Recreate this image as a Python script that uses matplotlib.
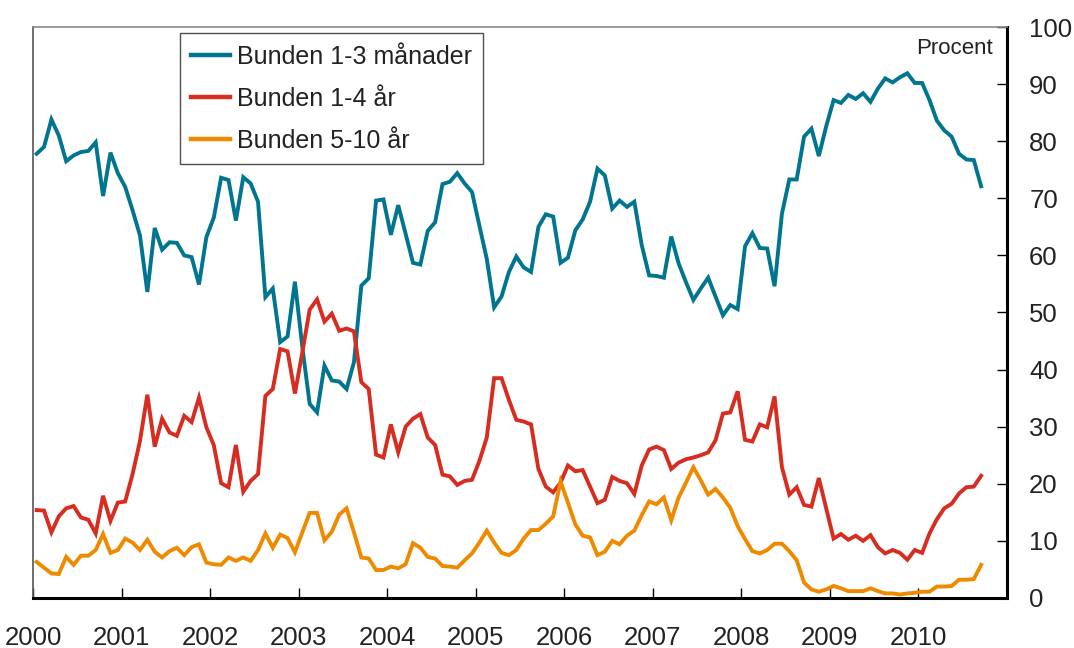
import matplotlib
matplotlib.use("Agg")
import matplotlib.pyplot as plt
import numpy as np

plt.rcParams['font.family'] = ['Liberation Sans', 'DejaVu Sans']

# monthly data, Jan 2000 - Sep 2010
bunden_1_3_man = [77.8, 79.0, 83.8, 81.0, 76.5, 77.5, 78.1, 78.3, 79.8, 70.4, 78.0, 74.4,
                  72.0, 67.9, 63.5, 53.6, 64.8, 61.0, 62.3, 62.2, 60.0, 59.7, 54.9, 63.2,
                  66.6, 73.6, 73.2, 66.1, 73.7, 72.6, 69.4, 52.7, 54.2, 44.8, 45.8, 55.4,
                  44.0, 34.0, 32.5, 40.7, 38.1, 37.9, 36.6, 41.3, 54.7, 56.0, 69.6, 69.8,
                  63.6, 68.8, 63.8, 58.7, 58.4, 64.3, 65.8, 72.5, 72.9, 74.4, 72.6, 71.1,
                  65.2, 59.4, 50.9, 52.8, 57.1, 59.8, 57.9, 57.1, 65.0, 67.2, 66.8, 58.7,
                  59.6, 64.4, 66.3, 69.4, 75.2, 74.0, 68.2, 69.6, 68.5, 69.4, 61.8, 56.5,
                  56.4, 56.1, 63.3, 58.6, 55.3, 52.2, 54.2, 56.1, 52.8, 49.5, 51.3, 50.6,
                  61.6, 63.9, 61.3, 61.2, 54.6, 67.3, 73.3, 73.3, 80.8, 82.2, 77.4, 82.6,
                  87.2, 86.7, 88.1, 87.4, 88.4, 86.9, 89.2, 91.0, 90.3, 91.2, 91.9, 90.2,
                  90.2, 87.2, 83.6, 81.9, 80.8, 77.8, 76.8, 76.7, 72.1]

bunden_1_4_ar = [15.4, 15.3, 11.5, 14.3, 15.7, 16.1, 14.1, 13.7, 11.3, 17.9, 13.5, 16.7,
                 16.9, 21.7, 27.5, 35.6, 26.5, 31.4, 29.0, 28.4, 31.9, 30.8, 35.1, 29.9,
                 26.8, 20.1, 19.4, 26.8, 18.6, 20.5, 21.7, 35.4, 36.6, 43.6, 43.2, 35.8,
                 43.0, 50.5, 52.3, 48.4, 49.8, 46.8, 47.2, 46.7, 37.8, 36.6, 25.1, 24.6,
                 30.4, 25.5, 30.0, 31.4, 32.2, 28.1, 26.8, 21.6, 21.3, 19.8, 20.5, 20.7,
                 24.0, 28.1, 38.5, 38.5, 34.7, 31.2, 30.9, 30.4, 22.6, 19.5, 18.5, 20.2,
                 23.2, 22.2, 22.4, 19.5, 16.6, 17.2, 21.2, 20.5, 20.1, 18.2, 23.2, 26.0,
                 26.5, 25.9, 22.6, 23.7, 24.3, 24.6, 25.0, 25.5, 27.6, 32.3, 32.5, 36.2,
                 27.7, 27.4, 30.4, 29.9, 35.3, 22.9, 18.1, 19.4, 16.3, 16.0, 21.0, 15.7,
                 10.4, 11.2, 10.2, 10.9, 10.0, 11.0, 8.9, 7.8, 8.4, 7.9, 6.7, 8.4,
                 7.9, 11.3, 13.8, 15.7, 16.5, 18.3, 19.4, 19.5, 21.4]

bunden_5_10_ar = [6.3, 5.3, 4.3, 4.2, 7.2, 5.8, 7.4, 7.4, 8.4, 11.2, 7.9, 8.4,
                  10.4, 9.7, 8.4, 10.2, 8.1, 7.1, 8.2, 8.8, 7.5, 8.9, 9.4, 6.2,
                  5.9, 5.8, 7.1, 6.5, 7.1, 6.5, 8.4, 11.3, 8.8, 11.1, 10.5, 8.0,
                  11.5, 14.9, 14.9, 10.1, 11.6, 14.6, 15.7, 11.5, 7.1, 6.9, 4.9, 4.9,
                  5.5, 5.2, 5.9, 9.6, 8.8, 7.2, 6.9, 5.6, 5.5, 5.3, 6.6, 7.8,
                  9.7, 11.8, 9.7, 7.9, 7.5, 8.4, 10.4, 11.9, 11.9, 13.0, 14.3, 20.4,
                  16.7, 12.9, 10.9, 10.6, 7.5, 8.1, 10.0, 9.4, 10.9, 11.8, 14.5, 16.9,
                  16.4, 17.6, 13.6, 17.6, 20.2, 22.9, 20.6, 18.1, 19.1, 17.6, 15.8, 12.6,
                  10.3, 8.2, 7.8, 8.4, 9.5, 9.5, 8.2, 6.6, 2.7, 1.5, 1.1, 1.5,
                  2.1, 1.7, 1.2, 1.2, 1.2, 1.7, 1.2, 0.8, 0.8, 0.6, 0.8, 0.9,
                  1.1, 1.1, 2.0, 2.0, 2.1, 3.2, 3.2, 3.3, 5.8]

labels = ['Bunden 1-3 månader', 'Bunden 1-4 år', 'Bunden 5-10 år']
colors = ['#00758f', '#d62d20', '#ef8a00']
years = list(range(2000, 2011))

t = 2000 + (np.arange(len(bunden_1_3_man)) + 0.5) / 12

fig = plt.figure(figsize=(10.74, 6.48), dpi=100)
ax = fig.add_axes([0.0307, 0.0772, 0.9069, 0.8811])

for series, lab, col in zip([bunden_1_3_man, bunden_1_4_ar, bunden_5_10_ar], labels, colors):
    ax.plot(t, series, color=col, lw=2.8, label=lab, solid_joinstyle='miter')

ax.set_xlim(2000, 2011)
ax.set_ylim(0, 100)
ax.set_xticks(years)
ax.set_xticklabels([str(y) for y in years])
ax.set_yticks(range(0, 101, 10))

ax.yaxis.tick_right()
ax.tick_params(axis='x', direction='in', length=7, width=1, pad=20, labelsize=18.5, colors='black')
ax.tick_params(axis='y', direction='in', length=7, width=1, pad=16, labelsize=18.5, colors='black')
for lbl in ax.get_xticklabels():
    lbl.set_color('#222222')
for lbl in ax.get_yticklabels():
    lbl.set_color('#222222')

ax.spines['bottom'].set_linewidth(2.2)
ax.spines['right'].set_linewidth(2.2)
ax.spines['top'].set_color('#888888')
ax.spines['top'].set_linewidth(1.2)
ax.spines['left'].set_color('#555555')
ax.spines['left'].set_linewidth(1.2)

ax.text(0.986, 0.963, 'Procent', transform=ax.transAxes, ha='right', va='center',
        fontsize=16, color='#222222')

leg = ax.legend(loc='upper left', bbox_to_anchor=(0.151, 0.989), borderaxespad=0,
                fontsize=18, frameon=True, fancybox=False, handlelength=1.56,
                handletextpad=0.25, labelspacing=0.72, borderpad=0.45)
leg.get_frame().set_edgecolor('#222222')
leg.get_frame().set_linewidth(1.0)
for txt in leg.get_texts():
    txt.set_color('#222222')
for h in leg.get_lines():
    h.set_linewidth(3.2)

fig.savefig('out.png', dpi=100)
